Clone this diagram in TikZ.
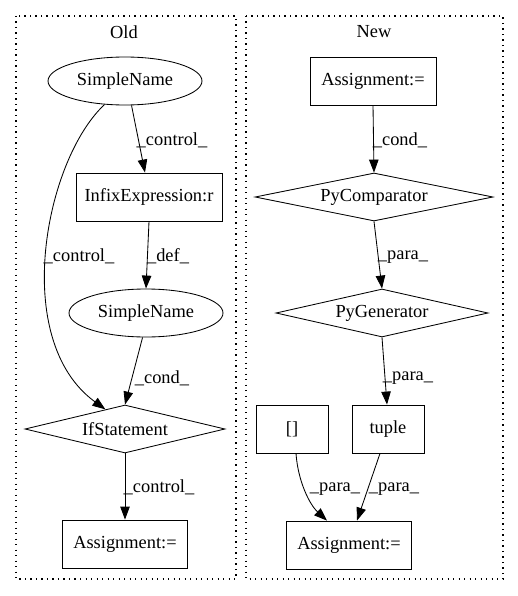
\documentclass[tikz,border=0pt]{standalone}
\usepackage{fontspec}
\setmainfont{Liberation Serif}
\usetikzlibrary{shapes.geometric,arrows.meta}
\tikzset{
  base/.style={draw,line width=0.85pt,inner sep=0pt,font=\fontsize{18.4}{22}\selectfont},
  boxnode/.style={base,rectangle,minimum height=48pt},
  ellnode/.style={base,ellipse,minimum width=154pt,minimum height=48pt},
  dianode/.style={base,diamond,minimum height=48pt},
  lbl/.style={inner sep=0pt,font=\fontsize{18.4}{22}\selectfont},
  edge/.style={line width=0.85pt,-{Triangle[length=13pt,width=9.5pt]}},
  cluster/.style={line width=1.1pt,dash pattern=on 1.2pt off 4.3pt}
}
\begin{document}
\begin{tikzpicture}[x=1pt,y=-1pt]
\useasboundingbox (0,0) rectangle (517,596);
% clusters
\draw[cluster] (16,16) rectangle (236,579);
\draw[cluster] (246,16) rectangle (503,579);
\node[lbl] (oldt) at (124,32) {Old};
\node[lbl] (newt) at (374,32) {New};
% Old
\node[ellnode] (sn1) at (125,81) {SimpleName};
\node[boxnode,minimum width=146pt] (infix) at (149,197) {InfixExpression:r};
\node[ellnode] (sn2) at (146,313) {SimpleName};
\node[dianode,minimum width=200pt,aspect=4.17] (ifs) at (125,429) {IfStatement};
\node[boxnode,minimum width=125pt] (asg1) at (125,544) {Assignment:=};
% New
\node[boxnode,minimum width=126pt] (asg2) at (373,81) {Assignment:=};
\node[dianode,minimum width=238pt,aspect=4.96] (pyc) at (374,197) {PyComparator};
\node[dianode,minimum width=212pt,aspect=4.4] (pyg) at (382,313) {PyGenerator};
\node[boxnode,minimum width=72pt] (tup) at (388,429) {tuple};
\node[boxnode,minimum width=72pt] (brk) at (292,429) {[]};
\node[boxnode,minimum width=125pt] (asg3) at (349,545) {Assignment:=};
% Old edges
\draw[edge] (sn1.-75) -- (infix.north -| 145,0);
\node[lbl] (l1) at (172,140) {\_control\_};
\draw[edge] (sn1.229) .. controls (45,160) and (10,340) .. (ifs.135);
\node[lbl] (l2) at (79,256) {\_control\_};
\draw[edge] (infix.south) -- (sn2.north);
\node[lbl] (l3) at (168,256) {\_def\_};
\draw[edge] (sn2.-98) -- (ifs.north);
\node[lbl] (l4) at (162,378) {\_cond\_};
\draw[edge] (ifs.south) -- (asg1.north);
\node[lbl] (l5) at (159,487) {\_control\_};
% New edges
\draw[edge] (asg2.south) -- (pyc.north);
\node[lbl] (l6) at (400,140) {\_cond\_};
\draw[edge] (pyc.south) -- (pyg.north);
\node[lbl] (l7) at (403,257) {\_para\_};
\draw[edge] (pyg.south) -- (tup.north -| 387,0);
\node[lbl] (l8) at (408,378) {\_para\_};
\draw[edge] (brk.south -| 296,0) .. controls (298,482) and (310,505) .. (asg3.north -| 327,0);
\node[lbl] (l9) at (335,489) {\_para\_};
\draw[edge] (tup.south -| 380,0) -- (asg3.north -| 357,0);
\node[lbl] (l10) at (394,489) {\_para\_};
\end{tikzpicture}
\end{document}
